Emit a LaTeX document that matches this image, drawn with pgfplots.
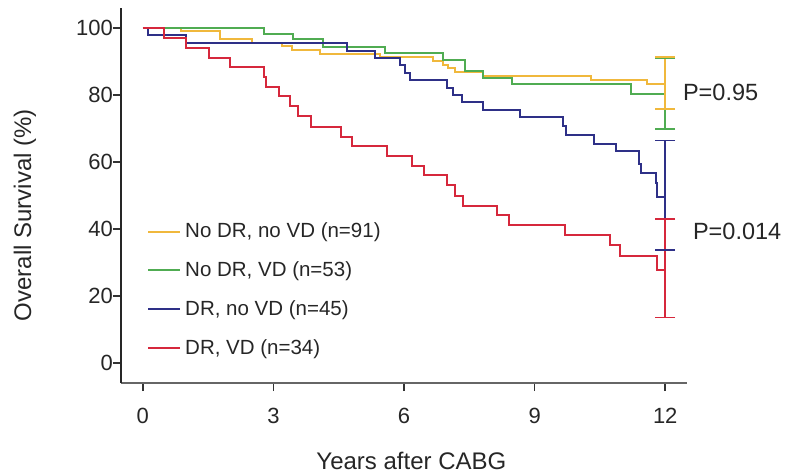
\documentclass[border=0pt]{standalone}
\usepackage{pgfplots}
\pgfplotsset{compat=1.18}
\usepackage{fontspec}
\setmainfont{Liberation Sans}

\definecolor{ycol}{RGB}{240,184,60}
\definecolor{gcol}{RGB}{80,172,82}
\definecolor{bcol}{RGB}{46,48,135}
\definecolor{rcol}{RGB}{214,40,60}

\begin{document}
\begin{tikzpicture}
\begin{axis}[
  at={(0,0)}, anchor=south west,
  width=283pt, height=187.5pt, scale only axis,
  xmin=-0.5, xmax=12.5, ymin=-6, ymax=106,
  axis lines*=left,
  x axis line style={draw=black!60, line width=1.4pt},
  y axis line style={draw=black!85, line width=1pt},
  tick align=outside, major tick length=4pt,
  tick style={black!80, line width=0.8pt},
  xtick={0,3,6,9,12}, ytick={0,20,40,60,80,100},
  /pgf/number format/assume math mode=true,
  ticklabel style={font=\fontsize{11}{13}\selectfont, text=black!85},
  yticklabel style={xshift=3.5pt},
  xticklabel style={yshift=-5pt},
  xlabel={Years after CABG}, ylabel={Overall Survival (\%)},
  label style={font=\fontsize{12}{14}\selectfont, text=black!85},
  xlabel style={at={(rel axis cs:0.513,0)}, anchor=center, yshift=-39pt},
  ylabel style={at={([xshift=-48pt]rel axis cs:0,0.448)}, anchor=center},
  clip=false,
  legend cell align=left,
  legend style={draw=none, fill=none, at={(rel axis cs:0.035,0.45)}, anchor=north west,
    font=\fontsize{10.25}{12}\selectfont, row sep=6.5pt, text=black!85},
  legend image code/.code={\draw[#1, line width=1pt] (0pt,0pt) -- (16pt,0pt);},
  every axis plot/.append style={line width=1pt, const plot, mark=none},
]
\addplot[ycol] coordinates {
  (0,100) (0.88,99.0) (1.77,96.6) (2.5,95.5) (3.2,94.6) (3.42,93.5) (4.08,92.4)
  (5.45,91.3) (6.67,90.2) (6.9,89.1) (7.02,88.0) (7.17,86.9) (7.82,85.6)
  (10.3,84.6) (11.57,83.2) (12,83.2)
};
\addlegendentry{No DR, no VD (n=91)}
\addplot[gcol] coordinates {
  (0,100) (2.79,98.2) (3.45,96.6) (4.14,94.4) (5.57,92.5) (6.9,90.5) (7.4,87.2)
  (7.82,85.2) (8.47,83.4) (11.22,80.3) (12,80.3)
};
\addlegendentry{No DR, VD (n=53)}
\addplot[bcol] coordinates {
  (0,100) (0.12,97.8) (1.0,95.5) (4.69,93.3) (5.34,91.1) (5.91,88.9) (6.03,86.7)
  (6.14,84.4) (6.98,82.2) (7.13,80.0) (7.33,77.8) (7.81,75.6) (8.66,73.3)
  (9.66,70.8) (9.72,68.2) (10.37,65.5) (10.87,63.2) (11.4,59.4) (11.45,56.6)
  (11.78,53.6) (11.81,49.7) (12,49.7)
};
\addlegendentry{DR, no VD (n=45)}
\addplot[rcol] coordinates {
  (0,100) (0.48,97.1) (1.0,94.2) (1.51,91.2) (2.01,88.3) (2.78,85.4) (2.82,82.5)
  (3.14,79.6) (3.39,76.7) (3.56,73.8) (3.86,70.5) (4.55,67.6) (4.8,64.7)
  (5.6,61.8) (6.18,58.9) (6.45,56.0) (6.98,53.1) (7.17,50.0) (7.35,47.0)
  (8.13,44.1) (8.42,41.2) (9.7,38.3) (10.73,35.3) (10.96,31.8) (11.8,27.9) (12,27.9)
};
\addlegendentry{DR, VD (n=34)}

% confidence intervals at 12 years
\addplot[forget plot, sharp plot, gcol, line width=0.8pt, mark=-, mark size=5pt, mark options={solid}]
  coordinates {(12,91.0) (12,69.8)};
\addplot[forget plot, sharp plot, ycol, line width=0.8pt, mark=-, mark size=5pt, mark options={solid}]
  coordinates {(12,91.3) (12,75.8)};
\addplot[forget plot, sharp plot, bcol, line width=0.8pt, mark=-, mark size=5pt, mark options={solid}]
  coordinates {(12,66.4) (12,33.8)};
\addplot[forget plot, sharp plot, rcol, line width=0.8pt, mark=-, mark size=5pt, mark options={solid}]
  coordinates {(12,43.0) (12,13.6)};

\node[anchor=west, font=\fontsize{11.75}{14}\selectfont, text=black!85, inner sep=0pt]
  at (axis cs:12.4,80.7) {P=0.95};
\node[anchor=west, font=\fontsize{11.75}{14}\selectfont, text=black!85, inner sep=0pt]
  at (axis cs:12.63,39.2) {P=0.014};
\end{axis}
\pgfresetboundingbox
\useasboundingbox (-60.5pt,-45pt) rectangle (332pt,191.5pt);
\end{tikzpicture}
\end{document}
